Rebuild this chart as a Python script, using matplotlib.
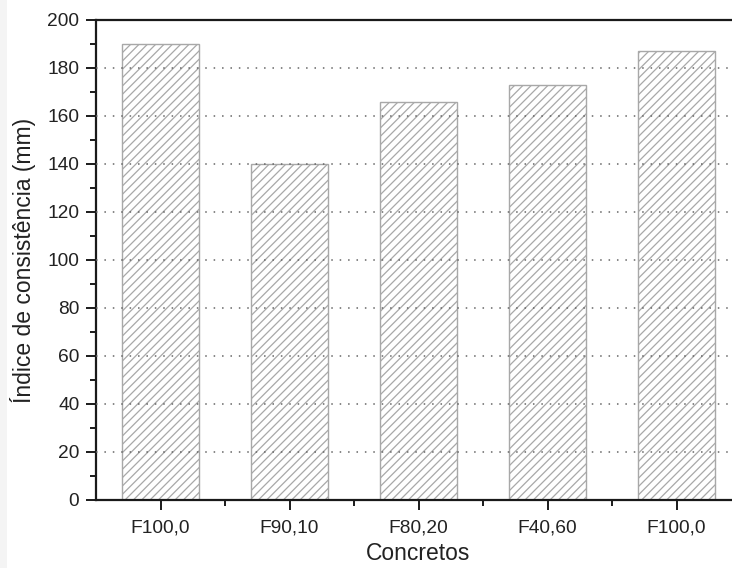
import matplotlib
matplotlib.use("Agg")
import matplotlib.pyplot as plt
from matplotlib.patches import Rectangle
from matplotlib.ticker import MultipleLocator, FixedLocator

categories = ["F100,0", "F90,10", "F80,20", "F40,60", "F100,0"]
values = [190, 140, 166, 173, 187]
yticks = [0, 20, 40, 60, 80, 100, 120, 140, 160, 180, 200]

plt.rcParams['font.family'] = ['Liberation Sans', 'DejaVu Sans']
plt.rcParams['hatch.color'] = '#8c8c8c'
plt.rcParams['hatch.linewidth'] = 0.9

W, H = 732, 568
fig = plt.figure(figsize=(W / 100, H / 100), dpi=100)
fig.patches.append(Rectangle((0, 0), 7 / W, 1, transform=fig.transFigure,
                             facecolor='#f4f4f4', edgecolor='none', zorder=-10))

left, right, top, bottom = 96, 741, 20, 500
ax = fig.add_axes([left / W, 1 - bottom / H, (right - left) / W, (bottom - top) / H])

x = list(range(len(categories)))
ax.bar(x, values, width=0.6, facecolor='white', edgecolor='#a8a8a8',
       hatch='////', linewidth=1.0, zorder=2)

ax.set_xlim(-0.5, len(categories) - 0.5)
ax.set_ylim(0, 200)
ax.set_xticks(x)
ax.set_xticklabels(categories)
ax.xaxis.set_minor_locator(FixedLocator([i + 0.5 for i in x]))
ax.set_yticks(yticks)
ax.yaxis.set_minor_locator(MultipleLocator(10))

for y in yticks[1:-1]:
    ax.axhline(y, color='#666666', linestyle=(0, (1, 4.5)), linewidth=1.1, zorder=3)

for s in ['left', 'bottom', 'top']:
    ax.spines[s].set_linewidth(1.6)
    ax.spines[s].set_color('#1a1a1a')
ax.spines['right'].set_visible(False)

ax.tick_params(axis='both', which='major', direction='out', length=7, width=1.4,
               labelsize=13.8, color='#1a1a1a', labelcolor='#222222')
ax.tick_params(axis='both', which='minor', direction='out', length=4, width=1.4,
               color='#1a1a1a')
ax.tick_params(axis='x', which='major', pad=7)
ax.tick_params(axis='y', which='major', pad=5)

ax.set_xlabel("Concretos", fontsize=16.5, color='#222222', labelpad=4)
ax.set_ylabel("Índice de consistência (mm)", fontsize=16.5, color='#222222', labelpad=8)

fig.savefig("out.png", dpi=100)
